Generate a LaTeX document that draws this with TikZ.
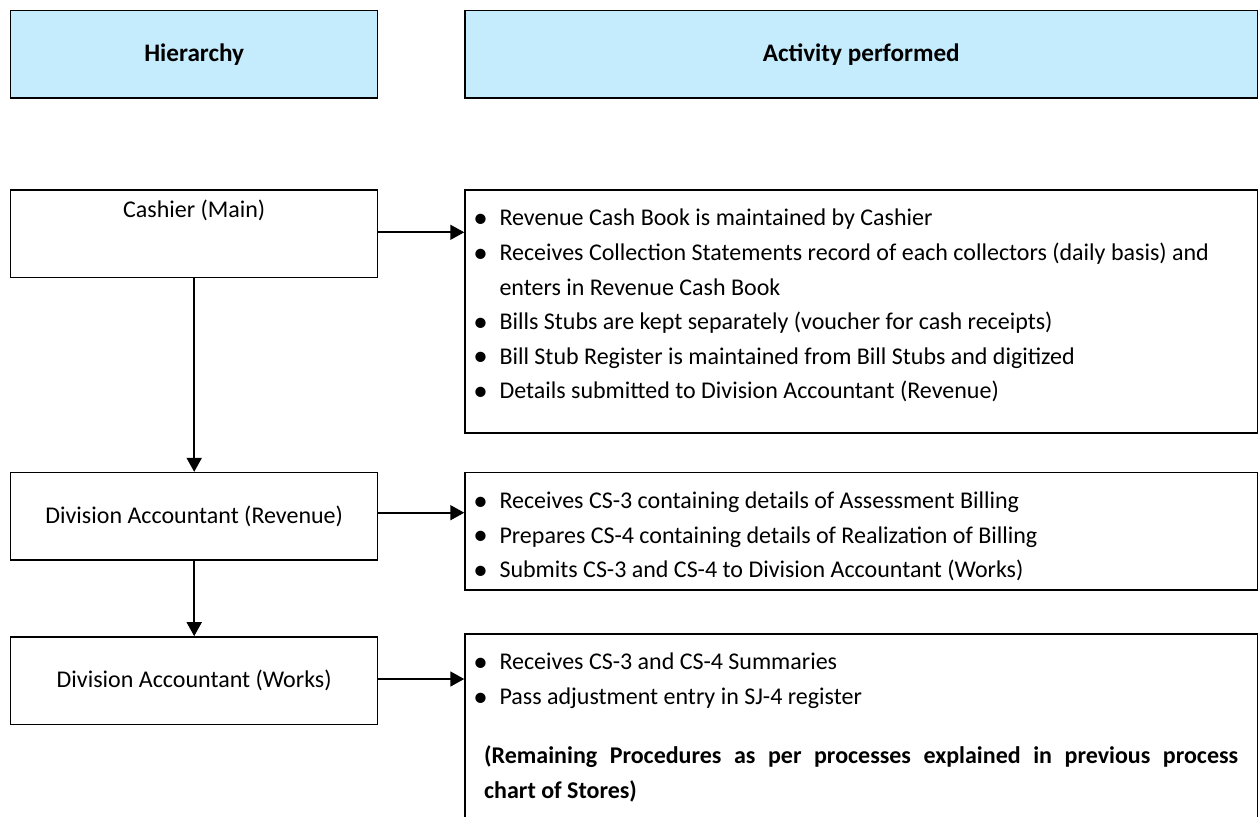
\documentclass[tikz,border=0pt]{standalone}
\usepackage{fontspec}
\setmainfont{Carlito}
\usetikzlibrary{arrows.meta}

% bullet item helpers: bullet centred on the line start, text after a hanging indent
\newcommand{\bul}{\makebox[0pt][c]{\raisebox{-1.6pt}{\fontsize{29}{29}\selectfont\textbullet}}\hspace{18.8pt}}
\newcommand{\cont}{\hspace{18.8pt}}

\tikzset{
  every node/.style={font=\fontsize{24}{34.6}\selectfont},
  headbox/.style={draw, line width=1.5pt, fill=headblue, minimum height=87.3pt,
                  inner sep=0pt, font=\fontsize{25.2}{34.6}\selectfont\bfseries},
  rolebox/.style={draw, line width=1.5pt, minimum width=367pt, minimum height=87.5pt, inner sep=0pt},
  actbox/.style={draw, line width=1.5pt, minimum width=792.5pt, inner sep=0pt},
  % the anchor sits on the baseline of the last line of each block
  acttext/.style={anchor=base west, align=left, inner sep=0pt},
  flow/.style={line width=1.8pt, -{Triangle[width=15pt,length=14pt]}}
}
\definecolor{headblue}{RGB}{197,236,253}

\begin{document}
\begin{tikzpicture}[x=1pt, y=-1pt]
\useasboundingbox[fill=white] (0,0) rectangle (1260,816);

% column headings
\node[headbox, minimum width=367pt] (hhier) at (194.2,54.35) {Hierarchy};
\node[headbox, minimum width=792.5pt] (hact) at (861.25,54.35) {Activity performed};

% hierarchy boxes
\node[rolebox] (cashier) at (194.2,233.85) {\raisebox{16.2pt}[0pt][0pt]{Cashier (Main)}};
\node[rolebox] (divrev) at (194.2,516.35) {Division Accountant (Revenue)};
\node[rolebox] (divworks) at (194.2,680.65) {Division Accountant (Works)};

% activity boxes
\node[actbox, minimum height=243pt] (act1) at (861.25,311.5) {};
\node[actbox, minimum height=117.3pt] (act2) at (861.25,531.35) {};
\node[actbox, minimum height=188pt] (act3) at (861.25,728) {};

% activity texts
\node[acttext] (t1) at (480.5,398.8) {%
\bul Revenue Cash Book is maintained by Cashier\\
\bul Receives Collection Statements record of each collectors (daily basis) and\\
\cont enters in Revenue Cash Book\\
\bul Bills Stubs are kept separately (voucher for cash receipts)\\
\bul Bill Stub Register is maintained from Bill Stubs and digitized\\
\bul Details submitted to Division Accountant (Revenue)};

\node[acttext] (t2) at (480.5,577.6) {%
\bul Receives CS-3 containing details of Assessment Billing\\
\bul Prepares CS-4 containing details of Realization of Billing\\
\bul Submits CS-3 and CS-4 to Division Accountant (Works)};

\node[acttext] (t3) at (480.5,704.4) {%
\bul Receives CS-3 and CS-4 Summaries\\
\bul Pass adjustment entry in SJ-4 register};

\node[acttext, font=\fontsize{24}{34.6}\selectfont\bfseries] (t4) at (484,798) {%
\makebox[754pt][s]{(Remaining Procedures as per processes explained in previous process}\\
chart of Stores)};

% connectors
\draw[flow] (cashier.east |- 0,232.3) -- (act1.west |- 0,232.3);
\draw[flow] (divrev.east |- 0,512.7) -- (act2.west |- 0,512.7);
\draw[flow] (divworks.east |- 0,679) -- (act3.west |- 0,679);
\draw[flow] (cashier.south) -- (divrev.north);
\draw[flow] (divrev.south) -- (divworks.north);
\end{tikzpicture}
\end{document}
